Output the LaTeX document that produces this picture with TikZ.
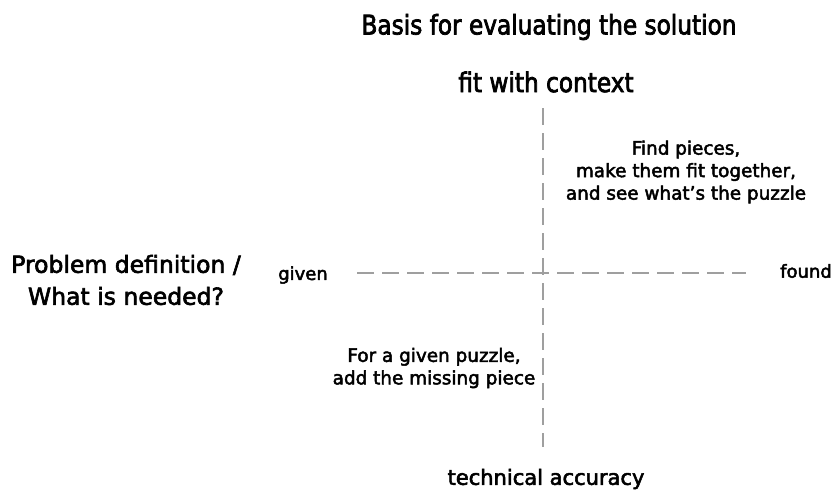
\documentclass[tikz,border=0pt]{standalone}
\usepackage{fontspec}
\setmainfont[FakeBold=2.6]{DejaVu Sans}
\newfontfamily\condfont[FakeStretch=0.86,FakeBold=2.6]{DejaVu Sans}
\usepackage{tikz}

\begin{document}
\begin{tikzpicture}[x=1pt,y=-1pt,
    axis/.style={gray!75, line width=1.6pt, dash pattern=on 17pt off 8pt},
    big/.style={font=\fontsize{23.5}{32}\selectfont, align=center},
    head/.style={font=\fontsize{27}{32}\selectfont\condfont},
    mid/.style={font=\fontsize{18.4}{22.5}\selectfont, align=center},
    small/.style={font=\fontsize{18}{20}\selectfont}]
    \useasboundingbox (0,0) rectangle (832,491);

    % Ends of the axes
    \coordinate (top) at (543,108);
    \coordinate (bottom) at (543,447);
    \coordinate (left) at (357,273);
    \coordinate (right) at (746,273);

    % Draw the dashed axes
    \draw[axis] (top) -- (bottom);
    \draw[axis] (left) -- (right);

    % Headings
    \node[head] (basis) at (549,27) {Basis for evaluating the solution};
    \node[head] (context) at (546,82) {fit with context};
    \node[font=\fontsize{21}{24}\selectfont] (accuracy) at (546,479) {technical accuracy};
    \node[big] (problem) at (126,280) {Problem definition /\\What is needed?};

    % Ends of the horizontal axis
    \node[small] (given) at (303,275) {given};
    \node[small] (found) at (806,271) {found};

    % Quadrant labels
    \node[mid] (findpieces) at (686,172) {Find pieces,\\make them fit together,\\and see what’s the puzzle};
    \node[mid] (missing) at (434,368) {For a given puzzle,\\add the missing piece};
\end{tikzpicture}
\end{document}
